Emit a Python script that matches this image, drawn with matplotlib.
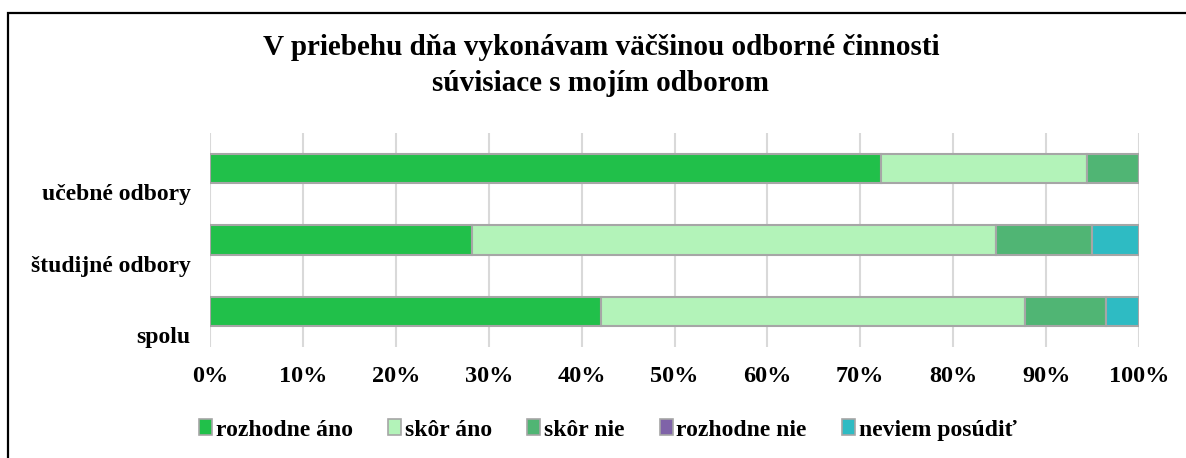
import matplotlib
matplotlib.use("Agg")
import matplotlib.pyplot as plt
from matplotlib.patches import Rectangle, Patch

CATEGORIES = ["učebné odbory", "študijné odbory", "spolu"]
SERIES = ["rozhodne áno", "skôr áno", "skôr nie", "rozhodne nie", "neviem posúdiť"]
COLORS = ["#21c04a", "#b3f3b9", "#50b574", "#7f63a8", "#2ebbc3"]
# shares in percent, per category (same order as CATEGORIES)
ROZHODNE_ANO = [72.2, 28.2, 42.1]
SKOR_ANO = [22.2, 56.4, 45.6]
SKOR_NIE = [5.6, 10.3, 8.8]
ROZHODNE_NIE = [0.0, 0.0, 0.0]
NEVIEM = [0.0, 5.1, 3.5]
VALUES = [ROZHODNE_ANO, SKOR_ANO, SKOR_NIE, ROZHODNE_NIE, NEVIEM]

TITLE = "V priebehu dňa vykonávam väčšinou odborné činnosti\nsúvisiace s mojím odborom"

plt.rcParams["font.family"] = ["Liberation Serif", "DejaVu Serif"]
plt.rcParams["font.weight"] = "bold"

W, H = 1186, 458
fig = plt.figure(figsize=(W / 100, H / 100), dpi=100)
ax = fig.add_axes([210 / W, 1 - 347 / H, (1139 - 210) / W, (347 - 133) / H])

# top category drawn at the top
ypos = [len(CATEGORIES) - 1 - i for i in range(len(CATEGORIES))]
left = [0.0] * len(CATEGORIES)
for name, vals, col in zip(SERIES, VALUES, COLORS):
    ax.barh(ypos, vals, left=left, height=0.41, color=col,
            edgecolor="#a6a6a6", linewidth=1.5, label=name, zorder=3)
    left = [l + v for l, v in zip(left, vals)]

ax.set_xlim(0, 100)
ax.set_ylim(-0.5, len(CATEGORIES) - 0.5)
ax.set_xticks(range(0, 101, 10))
ax.set_xticklabels([f"{t}%" for t in range(0, 101, 10)], fontsize=17.5, fontweight="bold")
# category labels sit a bit below their bars (as in the original Excel chart)
ax.set_yticks([y - 0.33 for y in ypos])
ax.set_yticklabels(CATEGORIES, fontsize=17, fontweight="bold")
ax.tick_params(axis="both", length=0)
ax.tick_params(axis="x", pad=14)
ax.tick_params(axis="y", pad=14)
ax.grid(axis="x", color="#d9d9d9", linewidth=1.5, zorder=0)
for s in ax.spines.values():
    s.set_visible(False)

fig.text(601 / W, 1 - 65.5 / H, TITLE, ha="center", va="center",
         fontsize=21, fontweight="bold", linespacing=1.45)

handles = [Patch(facecolor=c, edgecolor="#a6a6a6", linewidth=1.2, label=n)
           for n, c in zip(SERIES, COLORS)]
fig.legend(handles=handles, loc="center", bbox_to_anchor=(608 / W, 1 - 430 / H),
           ncol=len(SERIES), frameon=False,
           handlelength=0.55, handleheight=0.65, handletextpad=0.15,
           columnspacing=1.5, prop={"weight": "bold", "size": 17})

fig.add_artist(Rectangle((8 / W, -0.05), 1.2, 1 - 12.5 / H + 0.05,
                         transform=fig.transFigure, fill=False,
                         edgecolor="black", linewidth=1.6))

fig.savefig("out.png", dpi=100)
